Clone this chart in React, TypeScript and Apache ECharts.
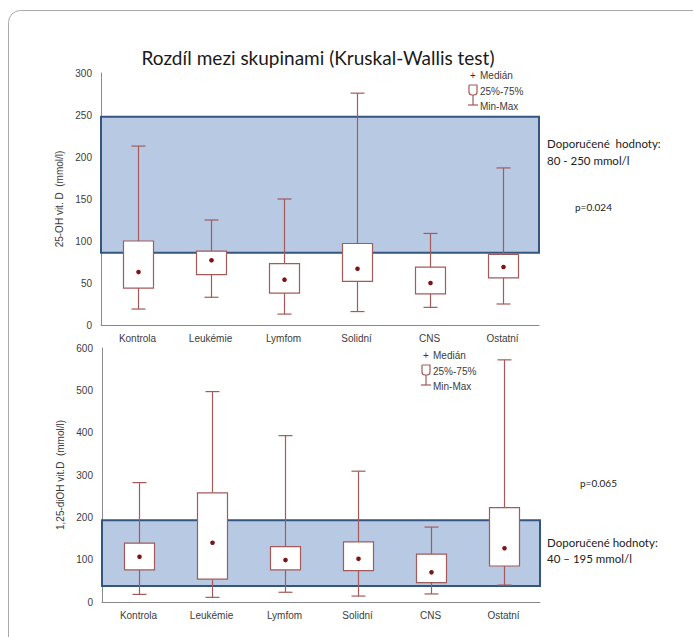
import React, { useEffect, useRef } from "react";
import * as echarts from "echarts";

const categories = ["Kontrola", "Leukémie", "Lymfom", "Solidní", "CNS", "Ostatní"];

// Top panel: 25-OH vit. D
const topMin = [19, 33, 13, 16, 21, 25];
const topQ1 = [44, 60, 38, 52, 37, 56];
const topMedian = [63, 77, 54, 67, 50, 69];
const topQ3 = [100, 88, 73, 97, 69, 84];
const topMax = [213, 125, 150, 276, 109, 187];
const topBand = [86, 248];
const topTicks = [0, 50, 100, 150, 200, 250, 300];

// Bottom panel: 1,25-diOH vit. D
const botMin = [18, 11, 23, 14, 19, 40];
const botQ1 = [76, 54, 76, 74, 46, 85];
const botMedian = [107, 140, 99, 102, 70, 127];
const botQ3 = [139, 258, 131, 142, 113, 223];
const botMax = [282, 497, 393, 309, 177, 572];
const botBand = [38, 193];
const botTicks = [0, 100, 200, 300, 400, 500, 600];

const BOX_STROKE = "#a45a5a";
const MEDIAN_COLOR = "#7e1416";
const BAND_FILL = "#b7c9e3";
const BAND_BORDER = "#34557f";
const AXIS_COLOR = "#8a8a8a";
const TEXT_COLOR = "#3c3c3c";

function boxData(mn: number[], q1: number[], md: number[], q3: number[], mx: number[]) {
  return categories.map((_, i) => [i, mn[i], q1[i], md[i], q3[i], mx[i]]);
}

function renderBox(params: any, api: any) {
  const x = api.value(0);
  const pMin = api.coord([x, api.value(1)]);
  const pQ1 = api.coord([x, api.value(2)]);
  const pMed = api.coord([x, api.value(3)]);
  const pQ3 = api.coord([x, api.value(4)]);
  const pMax = api.coord([x, api.value(5)]);
  const cx = Math.round(pMed[0]) + 0.5;
  const bw = 30;
  const cw = 14;
  const ls = { stroke: BOX_STROKE, lineWidth: 1.2 };
  return {
    type: "group",
    children: [
      { type: "line", shape: { x1: cx, y1: pMax[1], x2: cx, y2: pQ3[1] }, style: ls },
      { type: "line", shape: { x1: cx, y1: pQ1[1], x2: cx, y2: pMin[1] }, style: ls },
      { type: "line", shape: { x1: cx - cw / 2, y1: pMax[1], x2: cx + cw / 2, y2: pMax[1] }, style: ls },
      { type: "line", shape: { x1: cx - cw / 2, y1: pMin[1], x2: cx + cw / 2, y2: pMin[1] }, style: ls },
      {
        type: "rect",
        shape: { x: cx - bw / 2, y: pQ3[1], width: bw, height: pQ1[1] - pQ3[1] },
        style: { fill: "#ffffff", stroke: BOX_STROKE, lineWidth: 1.2 },
      },
      { type: "circle", shape: { cx: cx, cy: pMed[1], r: 2.3 }, style: { fill: MEDIAN_COLOR } },
    ],
  };
}

function legend(x0: number, y0: number) {
  // x0: icon centre x, y0: Medián row centre y
  const ls = { stroke: BOX_STROKE, lineWidth: 1.2 };
  const ts = { fill: TEXT_COLOR, fontSize: 10, fontFamily: "Liberation Sans", verticalAlign: "middle" };
  return [
    { type: "text", x: x0 - 3, y: y0, style: { text: "+", fill: MEDIAN_COLOR, fontSize: 10, fontFamily: "Liberation Sans", verticalAlign: "middle" } },
    { type: "text", x: x0 + 7, y: y0, style: { ...ts, text: "Medián" } },
    { type: "rect", shape: { x: x0 - 4, y: y0 + 10, width: 8, height: 10, r: [0, 0, 3, 3] }, style: { fill: "#fff", ...ls } },
    { type: "text", x: x0 + 7, y: y0 + 16, style: { ...ts, text: "25%-75%" } },
    { type: "line", shape: { x1: x0, y1: y0 + 20, x2: x0, y2: y0 + 30 }, style: ls },
    { type: "line", shape: { x1: x0 - 5, y1: y0 + 30, x2: x0 + 5, y2: y0 + 30 }, style: ls },
    { type: "text", x: x0 + 7, y: y0 + 31, style: { ...ts, text: "Min-Max" } },
  ];
}

export default function App() {
  const ref = useRef<HTMLDivElement>(null);
  useEffect(() => {
    if (!ref.current) return;
    const chart = echarts.init(ref.current, undefined, { renderer: "svg" });
    const axisLabel = { fontSize: 10, color: TEXT_COLOR, fontFamily: "Liberation Sans" };
    const xAxisBase = {
      type: "category",
      data: categories,
      boundaryGap: true,
      axisLine: { lineStyle: { color: AXIS_COLOR, width: 1 } },
      axisTick: { alignWithLabel: true, length: 3, lineStyle: { color: AXIS_COLOR } },
      axisLabel: { ...axisLabel, margin: 8 },
      splitLine: { show: false },
    };
    const yAxisBase = {
      type: "value",
      axisLine: { show: true, lineStyle: { color: AXIS_COLOR, width: 1 } },
      axisTick: { show: false },
      splitLine: { show: false },
      axisLabel: { ...axisLabel, margin: 9 },
      nameLocation: "middle",
      nameGap: 37,
      nameTextStyle: { fontSize: 10, color: TEXT_COLOR, fontFamily: "Liberation Sans" },
    };
    const option: any = {
      animation: false,
      backgroundColor: "#ffffff",
      grid: [
        { left: 101, top: 73, width: 438, height: 252 },
        { left: 102, top: 348, width: 438, height: 254 },
      ],
      xAxis: [
        { ...xAxisBase, gridIndex: 0 },
        { ...xAxisBase, gridIndex: 1 },
      ],
      yAxis: [
        {
          ...yAxisBase,
          gridIndex: 0,
          min: topTicks[0],
          max: topTicks[topTicks.length - 1],
          interval: topTicks[1] - topTicks[0],
          name: "25-OH vit. D  (mmol/l)",
        },
        {
          ...yAxisBase,
          gridIndex: 1,
          min: botTicks[0],
          max: botTicks[botTicks.length - 1],
          interval: botTicks[1] - botTicks[0],
          name: "1,25-diOH vit.D  (mmol/l)",
        },
      ],
      series: [
        {
          type: "line",
          xAxisIndex: 0,
          yAxisIndex: 0,
          data: [],
          z: 1,
          markArea: {
            silent: true,
            itemStyle: { color: BAND_FILL, borderColor: BAND_BORDER, borderWidth: 2 },
            data: [[{ yAxis: topBand[0] }, { yAxis: topBand[1] }]],
          },
        },
        {
          type: "line",
          xAxisIndex: 1,
          yAxisIndex: 1,
          data: [],
          z: 1,
          markArea: {
            silent: true,
            itemStyle: { color: BAND_FILL, borderColor: BAND_BORDER, borderWidth: 2 },
            data: [[{ yAxis: botBand[0] }, { yAxis: botBand[1] }]],
          },
        },
        {
          type: "custom",
          xAxisIndex: 0,
          yAxisIndex: 0,
          z: 5,
          renderItem: renderBox,
          encode: { x: 0, y: [1, 2, 3, 4, 5] },
          data: boxData(topMin, topQ1, topMedian, topQ3, topMax),
        },
        {
          type: "custom",
          xAxisIndex: 1,
          yAxisIndex: 1,
          z: 5,
          renderItem: renderBox,
          encode: { x: 0, y: [1, 2, 3, 4, 5] },
          data: boxData(botMin, botQ1, botMedian, botQ3, botMax),
        },
      ],
      graphic: [
        {
          type: "rect",
          shape: { x: 8.5, y: 10.5, width: 720, height: 660, r: 12 },
          style: { fill: "none", stroke: "#a8a8a8", lineWidth: 1 },
          silent: true,
          z: -1,
        },
        {
          type: "text",
          x: 318,
          y: 57,
          style: {
            text: "Rozdíl mezi skupinami (Kruskal-Wallis test)",
            fontSize: 19,
            fontFamily: "Lato",
            fill: "#1a1a1a",
            align: "center",
            verticalAlign: "middle",
          },
        },
        ...legend(473, 75),
        ...legend(426, 355),
        {
          type: "text",
          x: 547,
          y: 143,
          style: { text: "Doporučené  hodnoty:", fontSize: 11.5, fontFamily: "Lato", fill: "#222", verticalAlign: "middle" },
        },
        {
          type: "text",
          x: 547,
          y: 160,
          style: { text: "80 - 250 mmol/l", fontSize: 11.5, fontFamily: "Lato", fill: "#222", verticalAlign: "middle" },
        },
        {
          type: "text",
          x: 575,
          y: 207,
          style: { text: "p=0.024", fontSize: 10, fontFamily: "Lato", fill: "#222", verticalAlign: "middle" },
        },
        {
          type: "text",
          x: 580,
          y: 483,
          style: { text: "p=0.065", fontSize: 10, fontFamily: "Lato", fill: "#222", verticalAlign: "middle" },
        },
        {
          type: "text",
          x: 547,
          y: 542,
          style: { text: "Doporučené hodnoty:", fontSize: 11.5, fontFamily: "Lato", fill: "#222", verticalAlign: "middle" },
        },
        {
          type: "text",
          x: 547,
          y: 558,
          style: { text: "40 – 195 mmol/l", fontSize: 11.5, fontFamily: "Lato", fill: "#222", verticalAlign: "middle" },
        },
      ],
    };
    chart.setOption(option);
    return () => chart.dispose();
  }, []);
  return (
    <div
      ref={ref}
      style={{ position: "absolute", left: 0, top: 0, width: 693, height: 637 }}
    />
  );
}
